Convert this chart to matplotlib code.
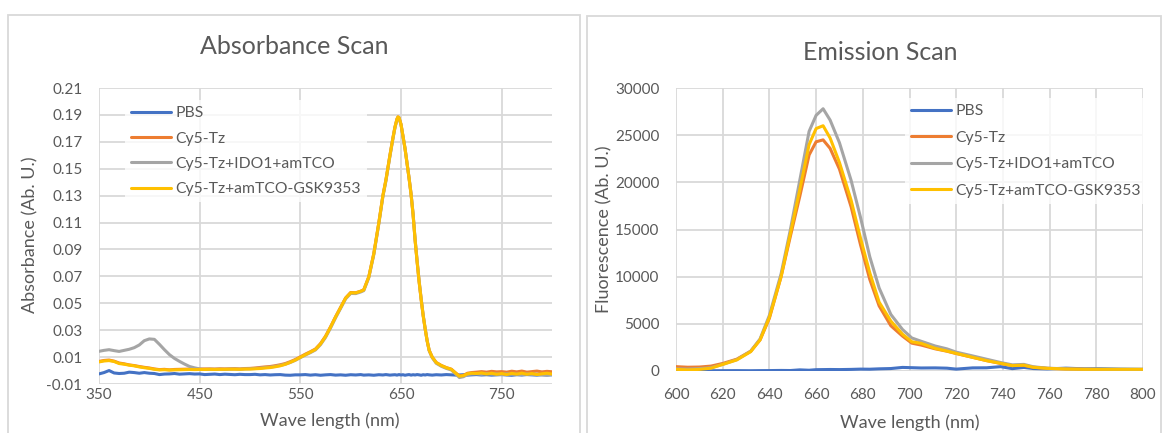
import matplotlib
matplotlib.use("Agg")
import matplotlib.pyplot as plt
from matplotlib.patches import Rectangle

plt.rcParams['font.family'] = ['Lato', 'DejaVu Sans']

# ---------------- data ----------------
series_names = ["PBS", "Cy5-Tz", "Cy5-Tz+IDO1+amTCO", "Cy5-Tz+amTCO-GSK9353"]
series_colors = ["#4472C4", "#ED7D31", "#A5A5A5", "#FFC000"]

abs_nm = [350, 355, 360, 365, 370, 375, 380, 385, 390, 395, 400, 405, 410, 415, 420,
          425, 430, 435, 440, 445, 450, 455, 460, 465, 470, 475, 480, 485, 490, 495,
          500, 505, 510, 515, 520, 525, 530, 535, 540, 545, 550, 555, 560, 565, 570,
          575, 580, 585, 590, 595, 600, 605, 610, 613, 618, 623, 628, 632, 635, 639,
          642, 644, 646, 647, 648, 650, 652, 654, 656, 658, 660, 662, 664, 666, 668,
          670, 672, 674, 676, 678, 681, 685, 690, 695, 700, 705, 708, 712, 716, 720,
          725, 730, 735, 740, 745, 750, 755, 760, 765, 770, 775, 780, 785, 790, 795, 800]

abs_pbs = [-0.0025, -0.0015, 0.0000, -0.0018, -0.0022, -0.0020, -0.0012, -0.0015, -0.0020, -0.0015,
           -0.0020, -0.0022, -0.0030, -0.0026, -0.0025, -0.0022, -0.0027, -0.0025, -0.0023, -0.0026,
           -0.0025, -0.0030, -0.0028, -0.0026, -0.0030, -0.0027, -0.0029, -0.0031, -0.0028, -0.0030,
           -0.0030, -0.0028, -0.0032, -0.0030, -0.0033, -0.0031, -0.0030, -0.0034, -0.0035, -0.0032,
           -0.0032, -0.0030, -0.0034, -0.0031, -0.0035, -0.0032, -0.0030, -0.0034, -0.0032, -0.0035,
           -0.0031, -0.0033, -0.0030, -0.0034, -0.0032, -0.0035, -0.0031, -0.0033, -0.0030, -0.0034,
           -0.0032, -0.0031, -0.0034, -0.0032, -0.0030, -0.0033, -0.0031, -0.0035, -0.0032, -0.0030,
           -0.0034, -0.0031, -0.0033, -0.0030, -0.0032, -0.0035, -0.0031, -0.0033, -0.0030, -0.0032,
           -0.0034, -0.0031, -0.0033, -0.0030, -0.0032, -0.0034, -0.0033, -0.0031, -0.0034, -0.0032,
           -0.0030, -0.0033, -0.0031, -0.0034, -0.0032, -0.0030, -0.0033, -0.0035, -0.0031, -0.0033,
           -0.0030, -0.0032, -0.0034, -0.0031, -0.0033, -0.0032]

abs_cy5 = [0.0068, 0.0075, 0.0078, 0.0070, 0.0056, 0.0050, 0.0042, 0.0037, 0.0030, 0.0024,
           0.0019, 0.0012, 0.0007, 0.0009, 0.0005, 0.0008, 0.0009, 0.0010, 0.0011, 0.0010,
           0.0011, 0.0012, 0.0012, 0.0011, 0.0013, 0.0012, 0.0013, 0.0014, 0.0012, 0.0015,
           0.0016, 0.0019, 0.0023, 0.0027, 0.0030, 0.0036, 0.0043, 0.0052, 0.0066, 0.0082,
           0.0102, 0.0122, 0.0140, 0.0160, 0.0200, 0.0255, 0.0325, 0.0400, 0.0470, 0.0540,
           0.0580, 0.0578, 0.0590, 0.0600, 0.0697, 0.0870, 0.1100, 0.1300, 0.1416, 0.1600,
           0.1730, 0.1810, 0.1870, 0.1885, 0.1880, 0.1830, 0.1740, 0.1650, 0.1540, 0.1430,
           0.1310, 0.1160, 0.0970, 0.0810, 0.0660, 0.0530, 0.0410, 0.0310, 0.0220, 0.0150,
           0.0100, 0.0060, 0.0038, 0.0022, 0.0010, -0.0022, -0.0040, -0.0036, -0.0020, -0.0015,
           -0.0012, -0.0008, -0.0012, -0.0006, -0.0010, -0.0008, -0.0012, -0.0005, -0.0010, -0.0004,
           -0.0012, -0.0008, -0.0004, -0.0010, -0.0006, -0.0009]

abs_ido1 = [0.0143, 0.0150, 0.0155, 0.0148, 0.0142, 0.0150, 0.0158, 0.0170, 0.0190, 0.0222,
            0.0235, 0.0232, 0.0195, 0.0155, 0.0118, 0.0090, 0.0068, 0.0048, 0.0030, 0.0020,
            0.0012, 0.0008, 0.0010, 0.0009, 0.0010, 0.0009, 0.0011, 0.0011, 0.0010, 0.0012,
            0.0013, 0.0015, 0.0018, 0.0022, 0.0025, 0.0031, 0.0038, 0.0047, 0.0060, 0.0076,
            0.0096, 0.0115, 0.0133, 0.0153, 0.0192, 0.0246, 0.0316, 0.0392, 0.0462, 0.0533,
            0.0573, 0.0572, 0.0584, 0.0594, 0.0690, 0.0862, 0.1092, 0.1292, 0.1408, 0.1593,
            0.1723, 0.1804, 0.1865, 0.1881, 0.1877, 0.1828, 0.1739, 0.1650, 0.1541, 0.1432,
            0.1313, 0.1165, 0.0976, 0.0817, 0.0667, 0.0536, 0.0414, 0.0312, 0.0220, 0.0148,
            0.0096, 0.0054, 0.0032, 0.0016, 0.0004, -0.0030, -0.0052, -0.0046, -0.0030, -0.0026,
            -0.0024, -0.0028, -0.0022, -0.0027, -0.0025, -0.0030, -0.0024, -0.0028, -0.0026, -0.0031,
            -0.0025, -0.0029, -0.0027, -0.0032, -0.0035, -0.0028]

abs_gsk = [0.0064, 0.0071, 0.0074, 0.0067, 0.0052, 0.0047, 0.0040, 0.0035, 0.0027, 0.0021,
           0.0016, 0.0009, 0.0005, 0.0006, 0.0004, 0.0005, 0.0006, 0.0007, 0.0008, 0.0007,
           0.0008, 0.0008, 0.0009, 0.0008, 0.0009, 0.0009, 0.0010, 0.0010, 0.0009, 0.0011,
           0.0011, 0.0013, 0.0015, 0.0019, 0.0022, 0.0028, 0.0035, 0.0046, 0.0061, 0.0078,
           0.0098, 0.0118, 0.0137, 0.0157, 0.0197, 0.0252, 0.0322, 0.0398, 0.0468, 0.0538,
           0.0578, 0.0577, 0.0589, 0.0599, 0.0696, 0.0869, 0.1099, 0.1299, 0.1415, 0.1599,
           0.1729, 0.1809, 0.1869, 0.1885, 0.1880, 0.1830, 0.1740, 0.1650, 0.1540, 0.1430,
           0.1310, 0.1160, 0.0970, 0.0810, 0.0660, 0.0530, 0.0410, 0.0310, 0.0220, 0.0150,
           0.0100, 0.0059, 0.0037, 0.0021, 0.0009, -0.0024, -0.0042, -0.0038, -0.0024, -0.0020,
           -0.0022, -0.0018, -0.0026, -0.0020, -0.0028, -0.0022, -0.0030, -0.0021, -0.0027, -0.0019,
           -0.0028, -0.0022, -0.0030, -0.0024, -0.0020, -0.0026]

emi_nm = [600, 605, 610, 615, 620, 626, 632, 636, 640, 645, 649, 653, 657, 660, 663,
          666, 670, 675, 679, 683, 687, 692, 697, 701, 705, 711, 716, 720, 727, 733,
          739, 744, 749, 753, 759, 767, 775, 781, 790, 800]

emi_pbs = [40, 35, 40, 30, 35, 40, 30, 40, 45, 60, 50, 120, 80, 140, 150,
           160, 150, 170, 200, 190, 230, 260, 380, 350, 320, 330, 300, 200, 330, 340,
           460, 250, 380, 260, 220, 300, 230, 240, 200, 180]

emi_cy5 = [460, 400, 420, 520, 800, 1250, 2100, 3300, 5600, 10000, 14300, 18500, 22900, 24300, 24500,
           23600, 21400, 17400, 13400, 9700, 6900, 4800, 3700, 2950, 2750, 2350, 2100, 1850, 1450, 1100,
           800, 580, 600, 400, 280, 220, 180, 160, 150, 140]

emi_ido1 = [230, 200, 250, 350, 700, 1200, 2100, 3400, 5900, 10300, 15000, 20200, 25400, 27100, 27800,
            26600, 24200, 20200, 16300, 12100, 8800, 6000, 4400, 3500, 3150, 2650, 2350, 2000, 1600, 1250,
            900, 650, 700, 450, 300, 230, 190, 170, 160, 150]

emi_gsk = [180, 120, 170, 300, 700, 1170, 2050, 3300, 5700, 10000, 14600, 19200, 24000, 25700, 26000,
           24700, 22100, 18100, 14100, 10400, 7300, 5300, 3900, 3100, 2930, 2400, 2120, 1870, 1450, 1100,
           820, 570, 620, 390, 280, 210, 180, 180, 180, 180]

abs_xticks = [350, 450, 550, 650, 750]
abs_yticks = [-0.01, 0.01, 0.03, 0.05, 0.07, 0.09, 0.11, 0.13, 0.15, 0.17, 0.19, 0.21]
abs_ytick_labels = ["-0.01", "0.01", "0.03", "0.05", "0.07", "0.09", "0.11", "0.13",
                    "0.15", "0.17", "0.19", "0.21"]
emi_xticks = [600, 620, 640, 660, 680, 700, 720, 740, 760, 780, 800]
emi_yticks = [0, 5000, 10000, 15000, 20000, 25000, 30000]

# ---------------- figure ----------------
W, H = 1162, 433
fig = plt.figure(figsize=(W / 100, H / 100), dpi=100)
TXT = "#595959"
GRID = "#D9D9D9"

def fx(px):
    return px / W

def fy(py):
    return 1 - py / H

# panel borders
for (x0, y0, x1, y1) in [(8, 15, 580, 445), (587, 16, 1161, 445)]:
    fig.patches.append(Rectangle((fx(x0), fy(y1)), fx(x1) - fx(x0), fy(y0) - fy(y1),
                                 transform=fig.transFigure, fill=False,
                                 edgecolor=GRID, linewidth=1.3))

def style_axes(ax):
    for s in ax.spines.values():
        s.set_visible(False)
    ax.tick_params(length=0, labelsize=11, labelcolor=TXT)
    ax.grid(True, color=GRID, linewidth=1.3)
    ax.set_axisbelow(True)

# ---- Absorbance ----
ax1 = fig.add_axes([fx(99), fy(384), fx(552) - fx(99), fy(88) - fy(384)])
style_axes(ax1)
abs_series = [abs_pbs, abs_cy5, abs_ido1, abs_gsk]
for name, col, vals in zip(series_names, series_colors, abs_series):
    ax1.plot(abs_nm, vals, color=col, linewidth=2.2, label=name, solid_capstyle='round')
ax1.set_xlim(350, 800)
ax1.set_ylim(-0.01, 0.21)
ax1.set_xticks(abs_xticks)
ax1.set_yticks(abs_yticks)
ax1.set_yticklabels(abs_ytick_labels)
ax1.tick_params(axis='x', pad=3)
ax1.tick_params(axis='y', pad=12)
leg1 = ax1.legend(loc='upper left', bbox_to_anchor=(fx(125), fy(100)),
                  bbox_transform=fig.transFigure, frameon=True, fancybox=False,
                  fontsize=11.3, handlelength=2.5, handletextpad=0.3, labelspacing=0.72,
                  borderpad=0.4, borderaxespad=0)
leg1.get_frame().set_facecolor('white')
leg1.get_frame().set_edgecolor('none')
for t in leg1.get_texts():
    t.set_color(TXT)

fig.text(fx(294), fy(47), "Absorbance Scan", ha='center', va='center', fontsize=18, color=TXT)
fig.text(fx(330), fy(421), "Wave length (nm)", ha='center', va='center', fontsize=13, color=TXT)
fig.text(fx(30), fy(235), "Absorbance (Ab. U.)", ha='center', va='center', fontsize=13,
         color=TXT, rotation=90)

# ---- Emission ----
ax2 = fig.add_axes([fx(676), fy(371), fx(1143) - fx(676), fy(88) - fy(371)])
style_axes(ax2)
emi_series = [emi_pbs, emi_cy5, emi_ido1, emi_gsk]
for name, col, vals in zip(series_names, series_colors, emi_series):
    ax2.plot(emi_nm, vals, color=col, linewidth=2.2, label=name, solid_capstyle='round')
ax2.set_xlim(600, 800)
ax2.set_ylim(0, 30000)
ax2.set_xticks(emi_xticks)
ax2.set_yticks(emi_yticks)
ax2.tick_params(axis='x', pad=12)
ax2.tick_params(axis='y', pad=12)
leg2 = ax2.legend(loc='upper left', bbox_to_anchor=(fx(905), fy(98)),
                  bbox_transform=fig.transFigure, frameon=True, fancybox=False,
                  fontsize=11.3, handlelength=2.5, handletextpad=0.3, labelspacing=0.8,
                  borderpad=0.4, borderaxespad=0)
leg2.get_frame().set_facecolor('white')
leg2.get_frame().set_edgecolor('none')
for t in leg2.get_texts():
    t.set_color(TXT)

fig.text(fx(880), fy(52), "Emission Scan", ha='center', va='center', fontsize=18, color=TXT)
fig.text(fx(910), fy(423), "Wave length (nm)", ha='center', va='center', fontsize=13, color=TXT)
fig.text(fx(604), fy(229), "Fluorescence (Ab. U.)", ha='center', va='center', fontsize=13,
         color=TXT, rotation=90)

fig.savefig("out.png", dpi=100)
